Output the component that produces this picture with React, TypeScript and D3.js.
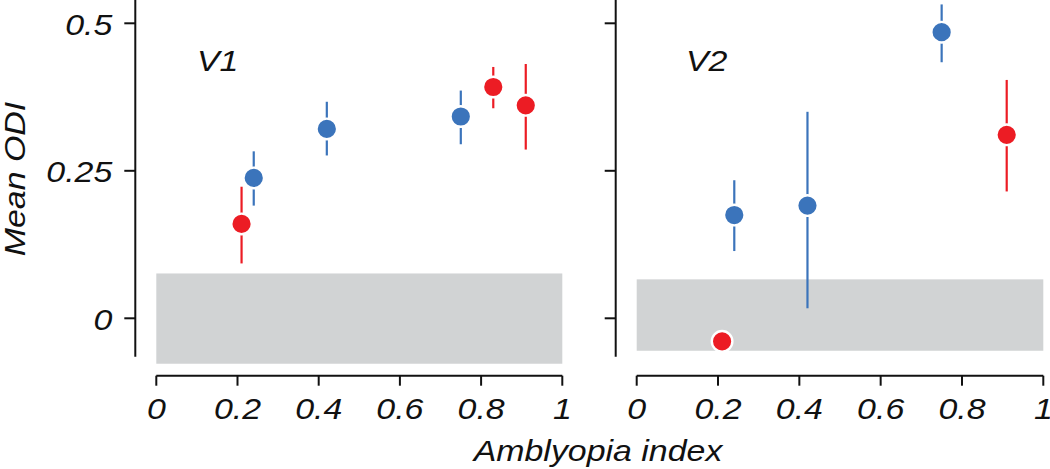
import React from "react";
import * as d3 from "d3";

const panelNames = ["V1", "V2"];
const xTicks = [0, 0.2, 0.4, 0.6, 0.8, 1];
const yTicks = [0, 0.25, 0.5];
const yAxisExtent = [-0.065, 0.54];

type Pt = { x: number; mean: number; lo: number | null; hi: number | null };

const v1Blue: Pt[] = [
  { x: 0.24, mean: 0.238, lo: 0.191, hi: 0.283 },
  { x: 0.42, mean: 0.321, lo: 0.276, hi: 0.367 },
  { x: 0.75, mean: 0.342, lo: 0.295, hi: 0.386 },
];
const v1Red: Pt[] = [
  { x: 0.21, mean: 0.16, lo: 0.093, hi: 0.223 },
  { x: 0.83, mean: 0.392, lo: 0.356, hi: 0.426 },
  { x: 0.91, mean: 0.361, lo: 0.286, hi: 0.431 },
];
const v2Blue: Pt[] = [
  { x: 0.24, mean: 0.175, lo: 0.114, hi: 0.234 },
  { x: 0.42, mean: 0.191, lo: 0.017, hi: 0.35 },
  { x: 0.75, mean: 0.485, lo: 0.434, hi: 0.532 },
];
const v2Red: Pt[] = [
  { x: 0.21, mean: -0.039, lo: null, hi: null },
  { x: 0.91, mean: 0.311, lo: 0.215, hi: 0.404 },
];
const v1Band = [-0.077, 0.076];
const v2Band = [-0.055, 0.066];

const BLUE = "#3b74bb";
const RED = "#ec1c24";
const GRAY = "#d1d3d4";
const FONT = "'Liberation Sans', Arial, Helvetica, sans-serif";
const SX = 1.13;

const panels = [
  { name: panelNames[0], blue: v1Blue, red: v1Red, band: v1Band, x0: 156.3, x1: 562.3, axisX: 135.3, labels: true, nameX: 197 },
  { name: panelNames[1], blue: v2Blue, red: v2Red, band: v2Band, x0: 636.7, x1: 1043.3, axisX: 615.7, labels: false, nameX: 686 },
];

const y = d3.scaleLinear().domain([0, 0.5]).range([318.3, 23.3]);
const xAxisY = 375.7;

function T({ x, y: yy, anchor, children, rotate = 0, size = 30 }: any) {
  return (
    <g transform={`translate(${x},${yy}) rotate(${rotate}) scale(${SX},1)`}>
      <text
        textAnchor={anchor}
        fontFamily={FONT}
        fontStyle="italic"
        fontSize={size}
        fill="#111"
      >
        {children}
      </text>
    </g>
  );
}

export default function App() {
  return (
    <svg
      width={1050}
      height={469}
      style={{ position: "absolute", left: 0, top: 0, background: "#fff" }}
    >
      {panels.map((p) => {
        const x = d3.scaleLinear().domain([0, 1]).range([p.x0, p.x1]);
        const pts = [
          ...p.blue.map((d) => ({ ...d, c: BLUE })),
          ...p.red.map((d) => ({ ...d, c: RED })),
        ];
        return (
          <g key={p.name}>
            <rect
              x={x(0)}
              width={x(1) - x(0)}
              y={y(p.band[1])}
              height={y(p.band[0]) - y(p.band[1])}
              fill={GRAY}
            />
            {/* y axis */}
            <line
              x1={p.axisX}
              x2={p.axisX}
              y1={y(yAxisExtent[1])}
              y2={y(yAxisExtent[0])}
              stroke="#111"
              strokeWidth={2}
            />
            {yTicks.map((t) => (
              <g key={t}>
                <line
                  x1={p.axisX - 11}
                  x2={p.axisX}
                  y1={y(t)}
                  y2={y(t)}
                  stroke="#111"
                  strokeWidth={2}
                />
                {p.labels && (
                  <T x={p.axisX - 23} y={y(t) + 11.5} anchor="end">
                    {String(t)}
                  </T>
                )}
              </g>
            ))}
            {/* x axis */}
            <line
              x1={x(0)}
              x2={x(1)}
              y1={xAxisY}
              y2={xAxisY}
              stroke="#111"
              strokeWidth={2}
            />
            {xTicks.map((t) => (
              <g key={t}>
                <line
                  x1={x(t)}
                  x2={x(t)}
                  y1={xAxisY}
                  y2={xAxisY + 10}
                  stroke="#111"
                  strokeWidth={2}
                />
                <T x={x(t)} y={419} anchor="middle">
                  {String(t)}
                </T>
              </g>
            ))}
            <T x={p.nameX} y={71} anchor="start">
              {p.name}
            </T>
            {pts.map((d, i) =>
              d.lo !== null && d.hi !== null ? (
                <line
                  key={"e" + i}
                  x1={x(d.x)}
                  x2={x(d.x)}
                  y1={y(d.hi)}
                  y2={y(d.lo)}
                  stroke={d.c}
                  strokeWidth={2.2}
                />
              ) : null
            )}
            {pts.map((d, i) => (
              <circle
                key={"c" + i}
                cx={x(d.x)}
                cy={y(d.mean)}
                r={10.3}
                fill={d.c}
                stroke="#fff"
                strokeWidth={2.4}
              />
            ))}
          </g>
        );
      })}
      <T x={25} y={179} anchor="middle" rotate={-90}>
        Mean ODI
      </T>
      <T x={598} y={461} anchor="middle">
        Amblyopia index
      </T>
    </svg>
  );
}
